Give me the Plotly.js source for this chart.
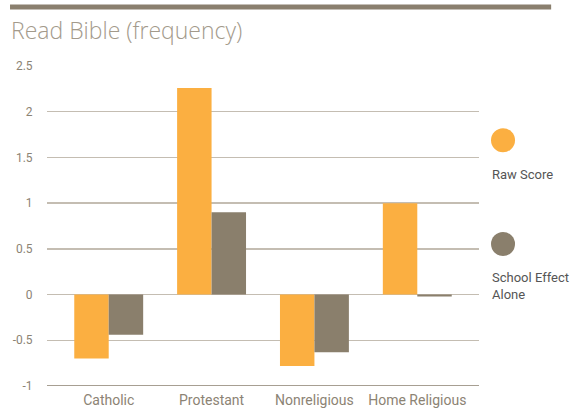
<!DOCTYPE html>
<html><head><meta charset="utf-8">
<script src="https://cdn.plot.ly/plotly-3.0.1.min.js"></script>
<style>html,body{margin:0;padding:0;background:#fff}#chart{width:572px;height:408px}</style>
</head><body><div id="chart"></div>
<script>
const categories = ["Catholic", "Protestant", "Nonreligious", "Home Religious"];
const rawScore = [-0.70, 2.26, -0.78, 1.00];
const schoolEffect = [-0.44, 0.90, -0.63, -0.02];
const seriesNames = ["Raw Score", "School Effect<br>Alone"];
const yTicks = [-1, -0.5, 0, 0.5, 1, 1.5, 2, 2.5];
const yTickLabels = ["-1", "-0.5", "0", "0.5", "1", "1.5", "2", "2.5"];

const orange = "#fbaf41", grey = "#8a7f6c";
const tickColor = "#8c8374";

const data = [
  {type: "bar", x: categories, y: rawScore, name: seriesNames[0], marker: {color: orange}, hoverinfo: "none"},
  {type: "bar", x: categories, y: schoolEffect, name: seriesNames[1], marker: {color: grey}, hoverinfo: "none"}
];

const layout = {
  width: 572, height: 408,
  margin: {l: 47, r: 93, t: 66, b: 22},
  paper_bgcolor: "#fff", plot_bgcolor: "#fff",
  showlegend: false,
  barmode: "group", bargap: 0.33, bargroupgap: 0,
  font: {family: "Roboto, sans-serif", color: tickColor},
  xaxis: {
    type: "category", range: [-0.6, 3.6], showgrid: false, zeroline: false,
    showline: false, ticks: "outside", ticklen: 1, tickcolor: "rgba(0,0,0,0)",
    tickfont: {size: 14, color: tickColor}
  },
  yaxis: {
    range: [-1, 2.5], tickvals: yTicks, ticktext: yTickLabels,
    showgrid: true, gridcolor: "#c4bdb2", gridwidth: 1.5,
    zeroline: true, zerolinecolor: "#c4bdb2", zerolinewidth: 1.5,
    showline: false, ticks: "outside", ticklen: 11, tickcolor: "rgba(0,0,0,0)",
    tickfont: {size: 12, color: tickColor}
  },
  shapes: [
    {type: "line", xref: "paper", yref: "paper", x0: -0.0856, x1: 1.167, y0: 1.184, y1: 1.184,
     line: {color: "#8a7f6e", width: 5}},
    {type: "line", xref: "paper", yref: "y", x0: 0, x1: 1, y0: -1, y1: -1,
     line: {color: "#8a7f6e", width: 1.5}},
    {type: "circle", xref: "paper", yref: "paper", xsizemode: "pixel", ysizemode: "pixel",
     xanchor: 1.0556, yanchor: 0.768, x0: -12, x1: 12, y0: -12, y1: 12,
     fillcolor: orange, line: {width: 0}},
    {type: "circle", xref: "paper", yref: "paper", xsizemode: "pixel", ysizemode: "pixel",
     xanchor: 1.0556, yanchor: 0.4438, x0: -12, x1: 12, y0: -12, y1: 12,
     fillcolor: grey, line: {width: 0}}
  ],
  annotations: [
    {text: "Read Bible (frequency)", xref: "paper", yref: "paper", x: -0.088, y: 1.17,
     xanchor: "left", yanchor: "top", showarrow: false,
     font: {family: "Open Sans, sans-serif", size: 23, color: "#a39a8b", weight: 300}},
    {text: seriesNames[0], xref: "paper", yref: "paper", x: 1.025, y: 0.6625,
     xanchor: "left", yanchor: "middle", showarrow: false, align: "left",
     font: {size: 13, color: "#555555"}},
    {text: seriesNames[1], xref: "paper", yref: "paper", x: 1.025, y: 0.312,
     xanchor: "left", yanchor: "middle", showarrow: false, align: "left",
     font: {size: 13, color: "#555555"}}
  ]
};

Plotly.newPlot("chart", data, layout, {displayModeBar: false, staticPlot: true});
</script></body></html>
